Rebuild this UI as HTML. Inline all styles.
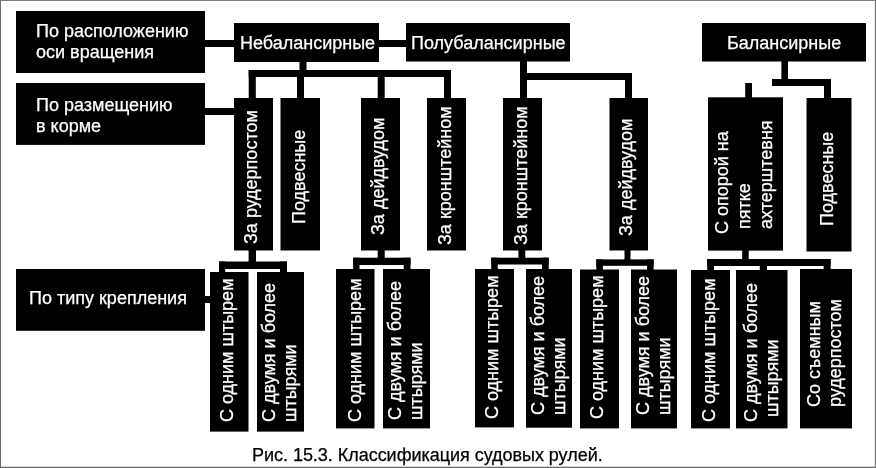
<!DOCTYPE html>
<html lang="ru"><head><meta charset="utf-8"><title>Рис. 15.3. Классификация судовых рулей</title>
<style>
html,body{margin:0;padding:0;background:#fff}
#f{position:relative;width:876px;height:468px;overflow:hidden;background:#fff;font-family:"Liberation Sans",sans-serif;font-size:18px;line-height:20px}
.g{position:absolute;left:0;top:0;display:block}
.t,.v{-webkit-text-stroke:0.25px currentColor}
.t{position:absolute;color:#fff;white-space:nowrap;will-change:transform}
.cap{color:#000;letter-spacing:-0.03px}
.l2{line-height:21px}
.v{position:absolute;color:#fff;white-space:nowrap;text-align:left;line-height:20px;transform-origin:0 0;transform:rotate(-90deg);will-change:transform}
</style></head><body><div id="f">
<svg class="g" width="876" height="468" viewBox="0 0 876 468" fill="#000">
<g fill="#6e6e6e"><rect x="0" y="0" width="876" height="0.9"/><rect x="0" y="0" width="1" height="468"/><rect x="874.9" y="0" width="1.1" height="468"/><rect x="0" y="466.7" width="876" height="1.3"/></g>
<g>
<rect x="16" y="11" width="189" height="62"/>
<rect x="16" y="83" width="189" height="61.9"/>
<rect x="16" y="269" width="189" height="61.8"/>
<rect x="234" y="23" width="145" height="39"/>
<rect x="406" y="23" width="164" height="38.5"/>
<rect x="702" y="23" width="164" height="38.5"/>
<rect x="234" y="98" width="39" height="152.5"/>
<rect x="280.5" y="98" width="39.5" height="152.5"/>
<rect x="361" y="98" width="39" height="152.5"/>
<rect x="427" y="98" width="39" height="152.5"/>
<rect x="503" y="98" width="39" height="152.5"/>
<rect x="609.5" y="98" width="38.5" height="152.5"/>
<rect x="708" y="97.3" width="75" height="153.3"/>
<rect x="806.5" y="98" width="45.0" height="153.5"/>
<rect x="210" y="272" width="38.5" height="159.6"/>
<rect x="257" y="272" width="47" height="159.6"/>
<rect x="336" y="269" width="38.5" height="159.4"/>
<rect x="383" y="269" width="47" height="159.4"/>
<rect x="475" y="269" width="39" height="158.4"/>
<rect x="526" y="269" width="46" height="158.7"/>
<rect x="580" y="269.5" width="39" height="158.9"/>
<rect x="631" y="269.5" width="46" height="158.9"/>
<rect x="691" y="270" width="39" height="158.4"/>
<rect x="736" y="270" width="51.5" height="158.4"/>
<rect x="800" y="269" width="52" height="159.4"/>
</g>
<g>
<rect x="205" y="40" width="29" height="7"/>
<rect x="379" y="40" width="27" height="7"/>
<rect x="205" y="108" width="29" height="7"/>
<rect x="205" y="296" width="6" height="7"/>
<rect x="299.5" y="62" width="7.0" height="9"/>
<rect x="248.7" y="70" width="202.3" height="7"/>
<rect x="248.7" y="70" width="7.1" height="28"/>
<rect x="297" y="70" width="7" height="28"/>
<rect x="377.7" y="70" width="7.0" height="28"/>
<rect x="444" y="70" width="7" height="28"/>
<rect x="520" y="61" width="7" height="37"/>
<rect x="520" y="73" width="112" height="7"/>
<rect x="625" y="73" width="7" height="25"/>
<rect x="781.4" y="61" width="6.6" height="19"/>
<rect x="772" y="79" width="59" height="7"/>
<rect x="824" y="79" width="7" height="19"/>
<rect x="745.2" y="83" width="6.8" height="15"/>
<rect x="248.6" y="250" width="7.4" height="13"/>
<rect x="219" y="261.5" width="68" height="7.5"/>
<rect x="219" y="261.5" width="6.2" height="10.5"/>
<rect x="280" y="261.5" width="7" height="10.5"/>
<rect x="377.7" y="250" width="7.0" height="9"/>
<rect x="353.2" y="257.7" width="57.3" height="7.3"/>
<rect x="353.2" y="257.7" width="6.3" height="11.3"/>
<rect x="403.7" y="257.7" width="6.8" height="11.3"/>
<rect x="518.4" y="250" width="6.9" height="9"/>
<rect x="491.2" y="257.7" width="57.5" height="6.8"/>
<rect x="491.2" y="257.7" width="6.6" height="11.3"/>
<rect x="542" y="257.7" width="6.7" height="11.3"/>
<rect x="624.5" y="250" width="6.0" height="10"/>
<rect x="596.3" y="259.4" width="57.3" height="6.4"/>
<rect x="596.3" y="259.4" width="6.6" height="10.6"/>
<rect x="647" y="259.4" width="6.6" height="10.6"/>
<rect x="742.2" y="250" width="6.5" height="10"/>
<rect x="707.2" y="259" width="123.4" height="7"/>
<rect x="707.2" y="259" width="6.8" height="11"/>
<rect x="759.8" y="259" width="7.2" height="11"/>
<rect x="823.6" y="259" width="7.0" height="11"/>
</g>
</svg>
<div class="t l2" style="left:36px;top:21px">По расположению<br>оси вращения</div>
<div class="t l2" style="left:36px;top:95px">По размещению<br>в корме</div>
<div class="t" style="left:29px;top:288px">По типу крепления</div>
<div class="t" style="left:240px;top:33px">Небалансирные</div>
<div class="t" style="left:411px;top:33px">Полубалансирные</div>
<div class="t" style="left:727px;top:33px">Балансирные</div>
<div class="t cap" style="left:252px;top:445px">Рис. 15.3. Классификация судовых рулей.</div>
<div class="v" style="left:241px;top:244px">За рудерпостом</div>
<div class="v" style="left:289px;top:224px">Подвесные</div>
<div class="v" style="left:368px;top:235px">За дейдвудом</div>
<div class="v" style="left:435px;top:245px">За кронштейном</div>
<div class="v" style="left:511px;top:245px">За кронштейном</div>
<div class="v" style="left:616px;top:236px">За дейдвудом</div>
<div class="v" style="left:711px;top:234px;line-height:22px">С опорой на<br><span style="margin-left:5px">пятке</span><br><span style="margin-left:5px">ахтерштевня</span></div>
<div class="v" style="left:817px;top:226px">Подвесные</div>
<div class="v" style="left:217px;top:422px">С одним штырем</div>
<div class="v" style="left:259px;top:422px;line-height:21px">С двумя и более<br>штырями</div>
<div class="v" style="left:345px;top:422px">С одним штырем</div>
<div class="v" style="left:385px;top:420px;line-height:21px">С двумя и более<br>штырями</div>
<div class="v" style="left:482px;top:419px">С одним штырем</div>
<div class="v" style="left:528px;top:415px;line-height:21px">С двумя и более<br>штырями</div>
<div class="v" style="left:587px;top:419px">С одним штырем</div>
<div class="v" style="left:633px;top:415px;line-height:21px">С двумя и более<br>штырями</div>
<div class="v" style="left:699px;top:422px">С одним штырем</div>
<div class="v" style="left:741px;top:422px;line-height:21px">С двумя и более<br><span style="margin-left:5px">штырями</span></div>
<div class="v" style="left:804px;top:407px;line-height:21px">Со съемным<br>рудерпостом</div>
</div></body></html>
